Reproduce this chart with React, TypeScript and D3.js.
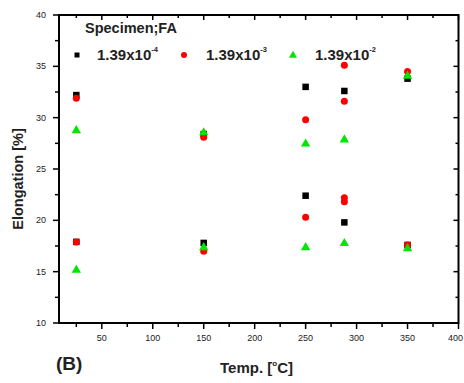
import React from "react";
import * as d3 from "d3";

const seriesNames = ["1.39x10", "1.39x10", "1.39x10"];
const seriesExp = ["-4", "-3", "-2"];
const seriesColors = ["#000000", "#ff0000", "#00e600"];

const blackX = [25, 25, 150, 150, 250, 250, 288, 288, 350, 350];
const blackY = [32.2, 17.9, 28.4, 17.8, 33.0, 22.4, 32.6, 19.8, 33.8, 17.6];

const redX = [25, 25, 150, 150, 250, 250, 288, 288, 288, 288, 350, 350];
const redY = [31.9, 17.9, 28.1, 17.0, 29.8, 20.3, 35.1, 31.6, 22.2, 21.8, 34.5, 17.6];

const greenX = [25, 25, 150, 150, 250, 250, 288, 288, 350, 350];
const greenY = [28.8, 15.2, 28.6, 17.4, 27.5, 17.4, 27.9, 17.8, 34.1, 17.3];

const xTickLabels = [50, 100, 150, 200, 250, 300, 350, 400];
const yTickLabels = [10, 15, 20, 25, 30, 35, 40];

const W = 464;
const H = 383;
const L = 59, R = 458.5, T = 15, B = 323;

export default function App() {
  const x = d3.scaleLinear().domain([8, 400]).range([L, R]);
  const y = d3.scaleLinear().domain([10, 40]).range([B, T]);
  const xMinor = d3.range(25, 400, 50);
  const yMinor = d3.range(12.5, 40, 5);
  const font = "'Liberation Sans', Arial, sans-serif";

  const sq = (cx: number, cy: number, c: string, k: string, s = 6.5) => (
    <rect key={k} x={cx - s / 2} y={cy - s / 2} width={s} height={s} fill={c} />
  );
  const circ = (cx: number, cy: number, c: string, k: string, r = 3.5) => (
    <circle key={k} cx={cx} cy={cy} r={r} fill={c} />
  );
  const tri = (cx: number, cy: number, c: string, k: string, a = 38) => (
    <path key={k} d={d3.symbol(d3.symbolTriangle, a)() || ""} transform={`translate(${cx},${cy + 0.5})`} fill={c} />
  );

  const legendY = 55;
  const legendItems = [
    { mx: 77, tx: 97 },
    { mx: 184, tx: 206 },
    { mx: 293, tx: 315 },
  ];

  return (
    <svg width={W} height={H} style={{ position: "absolute", left: 0, top: 0, background: "#fff" }} fontFamily={font}>
      <rect x={0} y={0} width={W} height={H} fill="#fff" />
      <rect x={L} y={T} width={R - L} height={B - T} fill="none" stroke="#000" strokeWidth={2} />
      {xTickLabels.map((v) => (
        <g key={"xb" + v}>
          <line x1={x(v)} x2={x(v)} y1={B} y2={B + 6} stroke="#000" strokeWidth={1.5} />
          <line x1={x(v)} x2={x(v)} y1={T} y2={T + 5} stroke="#000" strokeWidth={1.5} />
          <text x={v === 400 ? W - 1 : x(v)} y={341} fontSize={9} textAnchor={v === 400 ? "end" : "middle"} fill="#222">{v}</text>
        </g>
      ))}
      {xMinor.map((v) => (
        <g key={"xm" + v}>
          <line x1={x(v)} x2={x(v)} y1={B} y2={B + 4} stroke="#000" strokeWidth={1.5} />
          <line x1={x(v)} x2={x(v)} y1={T} y2={T + 3} stroke="#000" strokeWidth={1.5} />
        </g>
      ))}
      {yTickLabels.map((v) => (
        <g key={"yl" + v}>
          <line x1={L - 6} x2={L} y1={y(v)} y2={y(v)} stroke="#000" strokeWidth={1.5} />
          <line x1={R - 5} x2={R} y1={y(v)} y2={y(v)} stroke="#000" strokeWidth={1.5} />
          <text x={46} y={y(v) + 3} fontSize={9} textAnchor="end" fill="#222">{v}</text>
        </g>
      ))}
      {yMinor.map((v) => (
        <g key={"ym" + v}>
          <line x1={L - 4} x2={L} y1={y(v)} y2={y(v)} stroke="#000" strokeWidth={1.5} />
          <line x1={R - 3} x2={R} y1={y(v)} y2={y(v)} stroke="#000" strokeWidth={1.5} />
        </g>
      ))}
      {blackX.map((v, i) => sq(x(v), y(blackY[i]), seriesColors[0], "b" + i))}
      {redX.map((v, i) => circ(x(v), y(redY[i]), seriesColors[1], "r" + i))}
      {greenX.map((v, i) => tri(x(v), y(greenY[i]), seriesColors[2], "g" + i))}
      <text x={85} y={33} fontSize={14.5} fontWeight="bold" fill="#222">Specimen;FA</text>
      {legendItems.map((it, i) => (
        <g key={"lg" + i}>
          {i === 0 && sq(it.mx, legendY, seriesColors[0], "ls0", 5)}
          {i === 1 && circ(it.mx, legendY, seriesColors[1], "ls1", 3)}
          {i === 2 && tri(it.mx, legendY, seriesColors[2], "ls2", 28)}
          <text x={it.tx} y={legendY + 5} fontSize={15} fontWeight="bold" fill="#222">
            {seriesNames[i]}
            <tspan fontSize={7.5} dy={-8}>{seriesExp[i]}</tspan>
          </text>
        </g>
      ))}
      <text transform={`translate(23,179) rotate(-90)`} fontSize={14.5} fontWeight="bold" textAnchor="middle" fill="#222">
        Elongation [%]
      </text>
      <text x={220} y={373} fontSize={15} fontWeight="bold" fill="#222">
        Temp. [<tspan fontSize={8} dy={-7}>o</tspan><tspan dy={7}>C]</tspan>
      </text>
      <text x={56} y={370} fontSize={19} fontWeight="bold" fill="#222">(B)</text>
    </svg>
  );
}
